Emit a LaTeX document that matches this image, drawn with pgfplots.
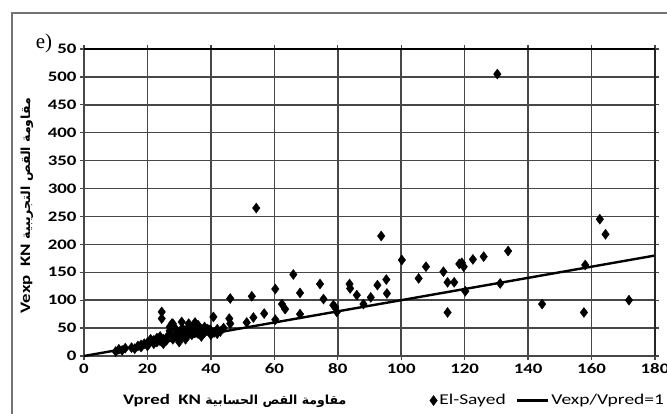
\documentclass[border=0pt]{standalone}
\usepackage{pgfplots}
\pgfplotsset{compat=1.18}
\usepackage{fontspec}
\setmainfont{Carlito}[FakeStretch=1.3]
\newfontfamily\arabicfont[Script=Arabic]{DejaVu Sans}
\newfontfamily\seriffont{Liberation Serif}
\TeXXeTstate=1
\pgfplotsset{longline legend/.style={legend image code/.code={\draw[##1] (0cm,0cm) -- (1.1cm,0cm);}}}
\pgfplotstableread{
x y
130.3 505
54.3 265
93.7 215
162.6 245
164.4 218
158 163
144.4 93
157.6 78
171.8 100
133.7 188
126 178
131.2 130
100.2 172
107.8 160
105.5 139
113.3 151
114.6 132
116.7 132
119.1 167
119.7 160
118.3 165
122.6 173
120.2 116
114.6 78
83.7 129
83.9 121
86 109
90.4 105
92.5 127
95.3 137
95.5 112
88.1 93
79.2 87
79.7 79
66 146
60.3 120
52.9 107
46.1 103
68.1 113
74.4 129
75.5 102
78.6 91
62.4 93
63.4 84
68.1 75
56.8 76
53.4 69
51.3 60
60.3 65
40.8 70
45.8 67
46.1 58
39.7 47
36.6 50
24.5 79
24.5 67
30.8 61
27.7 58
36 55
10 8
11 12
12 10
13 14
15 15
16 13
17 18
18 20
18 16
19 22
20 24
20 18
21 26
21 30
22 22
22 28
23 32
23 25
24 27
24 35
25 30
25 22
26 33
26 28
27 38
27 45
28 35
28 30
29 40
29 48
30 42
30 33
31 36
31 50
32 45
32 30
33 40
33 52
34 38
34 47
35 43
35 55
36 40
36 50
37 45
37 35
38 42
38 52
39 48
40 38
40 45
41 42
42 48
42 40
43 44
44 50
27 52
28 58
33 58
35 60
30 25
}\elsayed
\pgfplotstableread{
x y
0 0
180 180
}\unity
\begin{document}
\begin{tikzpicture}
\useasboundingbox (0,0) rectangle (667pt,414pt);
\draw[black!55, line width=1.2pt] (12pt,0) -- (12pt,401pt) -- (668pt,401pt);
\node[font=\seriffont\fontsize{21}{21}\selectfont] at (44pt,371pt) {e)};
\begin{axis}[
  at={(84pt,58pt)}, anchor=south west,
  scale only axis, width=571pt, height=307pt,
  xmin=0, xmax=180, ymin=0, ymax=550,
  xtick={0,20,...,180},
  ytick={0,50,...,550},
  yticklabels={0,50,100,150,200,250,300,350,400,450,500,50},
  grid=major,
  grid style={black!72, line width=1.5pt},
  axis line style={black!72, line width=1.5pt},
  tick align=outside, major tick length=4pt,
  tick style={black!72, line width=1.3pt},
  /pgf/number format/assume math mode=true,
  ticklabel style={font=\bfseries\fontsize{14.5}{15}\selectfont},
  xlabel={\bfseries Vpred\ \ KN {\arabicfont\bfseries\fontsize{12.5}{12}\selectfont\beginR مقاومة القص الحسابية\endR}},
  xlabel style={at={(axis description cs:0.264,-0.145)}, anchor=center, font=\fontsize{14.5}{14}\selectfont},
  ylabel={\bfseries Vexp\ \ KN {\arabicfont\bfseries\fontsize{12.5}{12}\selectfont\beginR مقاومة القص التجريبية\endR}},
  ylabel style={at={(axis description cs:-0.1,0.49)}, anchor=center, font=\fontsize{14.5}{14}\selectfont},
  legend style={at={(axis description cs:0.6,-0.145)}, anchor=west, draw=none, fill=none,
    font=\fontsize{15}{15}\selectfont, /tikz/every even column/.append style={column sep=8pt},
    /tikz/every odd column/.append style={column sep=0pt}},
  legend columns=2,
  clip=false,
]
\addplot[only marks, mark=diamond*, mark size=5pt, black] table[x=x,y=y] {\elsayed};
\addlegendentry{El-Sayed}
\addplot[black, line width=2.4pt, mark=none, longline legend] table[x=x,y=y] {\unity};
\addlegendentry{Vexp/Vpred=1}
\draw[black, line width=2.2pt] (rel axis cs:0,1) -- (rel axis cs:1,1);
\draw[black!85, line width=1.6pt] (rel axis cs:1,0) -- (rel axis cs:1,1);
\end{axis}
\end{tikzpicture}
\end{document}
